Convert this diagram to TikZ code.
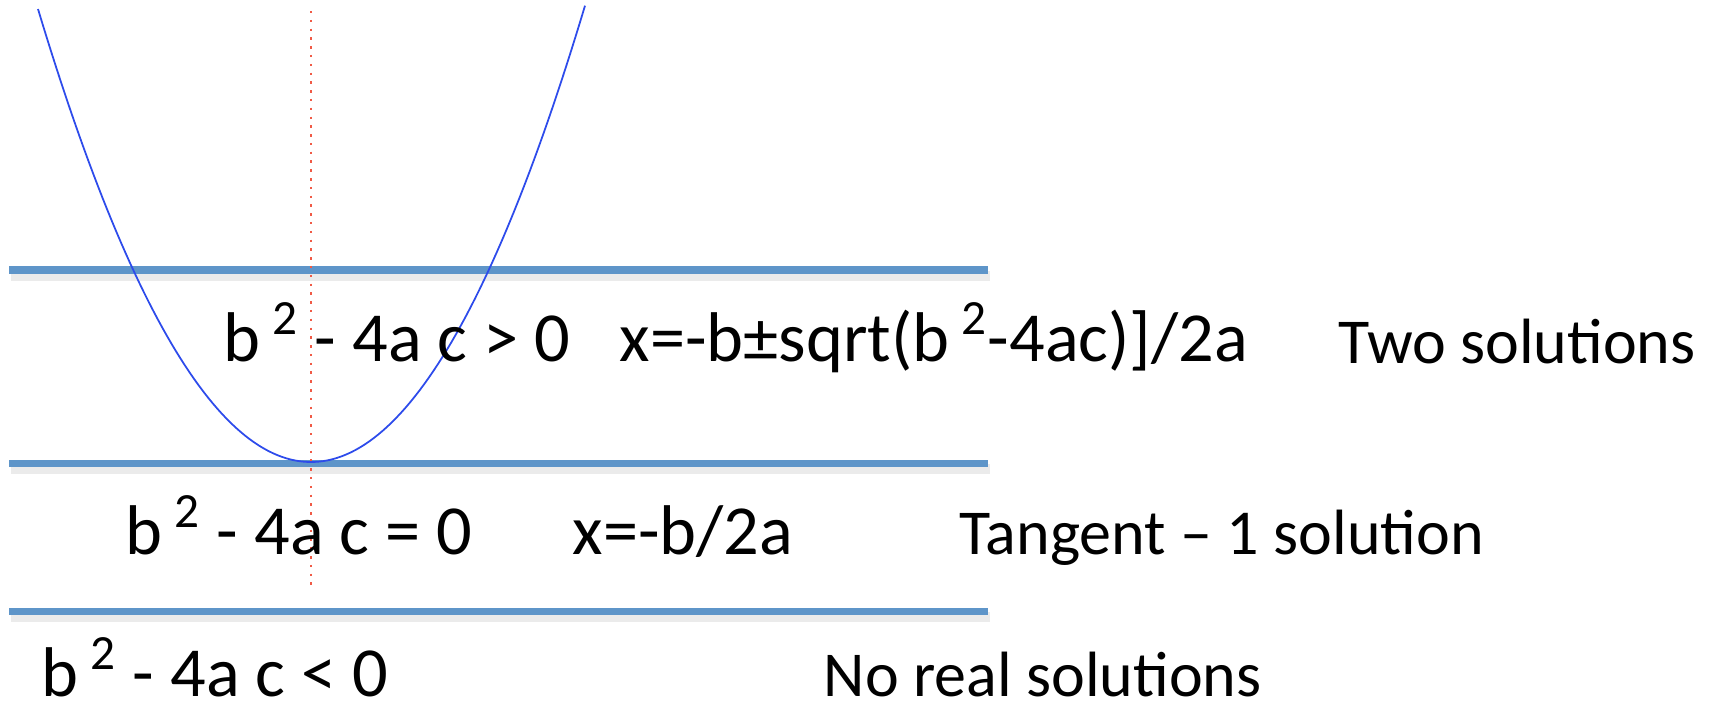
\documentclass[tikz,border=0pt]{standalone}
\usepackage{fontspec}
\setmainfont{Carlito}
\definecolor{lineblue}{RGB}{94,149,201}
\definecolor{curveblue}{RGB}{45,75,235}
\definecolor{axisred}{RGB}{240,90,70}
\newcommand{\sq}{\,\textsuperscript{2}}

\begin{document}
\begin{tikzpicture}[x=0.01cm,y=-0.01cm,
  level/.style={line width=2pt, lineblue},
  levelshadow/.style={line width=3pt, black, opacity=0.08},
  lbl/.style={anchor=base west, inner sep=0pt, font=\fontsize{18.2}{22}\selectfont},
  eqn/.style={lbl, font=\fontsize{20}{24}\selectfont}]
  \useasboundingbox (0,0) rectangle (1709,705);
  % shadows under the levels
  \foreach \y in {270,463,611}
    \draw[levelshadow] (11,\y+6) -- (990,\y+6);
  % the three levels
  \foreach \y in {270,463,611}
    \draw[level] (9,\y) -- (988,\y);
  % axis of symmetry
  \draw[axisred, line width=0.7pt, dash pattern=on 0.7pt off 1.8pt] (311,11) -- (311,589);
  % parabola
  \draw[curveblue, line width=0.5pt, domain=38:585, samples=120]
    plot (\x, {462-453*((\x-311)/273)^2});
  % labels
  \node[eqn] (dpos) at (223,361) {b\sq{} - 4a c > 0};
  \node[eqn] (xtwo) at (619,361) {x=-b±sqrt(b\sq-4ac)]/2a};
  \node[lbl] (two) at (1338,363) {Two solutions};
  \node[eqn] (dzero) at (125,554) {b\sq{} - 4a c = 0};
  \node[eqn] (xone) at (572,554) {x=-b/2a};
  \node[lbl] (one) at (959,554) {Tangent – 1 solution};
  \node[eqn] (dneg) at (41,696) {b\sq{} - 4a c < 0};
  \node[lbl] (none) at (823,696) {No real solutions};
\end{tikzpicture}
\end{document}
